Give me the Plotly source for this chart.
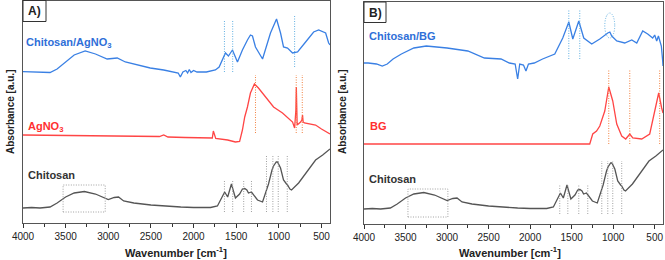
import plotly.graph_objects as go

# ---------------- data (wavenumber cm-1, absorbance a.u. with offsets) ----------------
chitosan_wn = [4000, 3900, 3800, 3683, 3600, 3500, 3400, 3280, 3150, 3050, 3000, 2930, 2880, 2820,
               2700, 2500, 2300, 2150, 2000, 1800, 1720, 1680, 1650, 1635, 1600, 1556, 1509, 1460,
               1427, 1400, 1375, 1356, 1321, 1290, 1250, 1191, 1165, 1150, 1121, 1080, 1062, 1030,
               1015, 980, 945, 910, 898, 870, 851, 768, 700, 651, 569, 486, 416, 400]
chitosan_ab = [0.15, 0.155, 0.15, 0.16, 0.20, 0.26, 0.30, 0.315, 0.29, 0.25, 0.235, 0.255, 0.26, 0.22,
               0.20, 0.18, 0.165, 0.16, 0.155, 0.155, 0.17, 0.23, 0.29, 0.31, 0.26, 0.39, 0.25, 0.29,
               0.34, 0.345, 0.33, 0.30, 0.31, 0.27, 0.23, 0.21, 0.28, 0.33, 0.39, 0.53, 0.57, 0.61,
               0.61, 0.55, 0.43, 0.39, 0.38, 0.34, 0.33, 0.40, 0.48, 0.53, 0.63, 0.68, 0.73, 0.74]

agno3_wn = [4000, 3500, 3000, 2600, 2400, 2350, 2300, 2100, 1900, 1780, 1768, 1760, 1752, 1740,
            1600, 1509, 1460, 1427, 1400, 1368, 1333, 1286, 1239, 1156, 1062, 957, 839, 815,
            800, 795, 790, 785, 745, 730, 722, 715, 700, 569, 500, 416, 400]
agno3_ab = [0.88, 0.875, 0.87, 0.86, 0.865, 0.88, 0.86, 0.855, 0.85, 0.85, 0.92, 0.90, 0.86, 0.845,
            0.83, 0.81, 0.815, 0.93, 1.06, 1.16, 1.30, 1.39, 1.35, 1.26, 1.16, 1.10, 1.01, 0.95,
            1.13, 1.36, 1.13, 0.98, 1.01, 1.03, 1.08, 1.01, 1.00, 0.98, 0.94, 0.90, 0.89]

chag_wn = [4000, 3850, 3683, 3600, 3500, 3400, 3271, 3150, 3013, 2950, 2895, 2800, 2650, 2508,
           2350, 2237, 2180, 2155, 2125, 2090, 2070, 2050, 2030, 2000, 1960, 1850, 1744, 1700,
           1662, 1626, 1591, 1544, 1485, 1427, 1368, 1333, 1309, 1274, 1191, 1156, 1098, 1027,
           980, 945, 898, 839, 780, 686, 592, 533, 451, 416, 400]
chag_ab = [1.513, 1.51, 1.505, 1.54, 1.61, 1.68, 1.72, 1.69, 1.64, 1.645, 1.65, 1.61, 1.58, 1.55,
           1.53, 1.51, 1.50, 1.46, 1.51, 1.525, 1.50, 1.535, 1.505, 1.525, 1.51, 1.51, 1.53, 1.56,
           1.63, 1.70, 1.67, 1.73, 1.61, 1.73, 1.83, 1.88, 1.87, 1.76, 1.64, 1.73, 1.90, 2.04,
           1.90, 1.76, 1.75, 1.70, 1.71, 1.81, 1.91, 1.93, 1.90, 1.80, 1.78]

bg_wn = [4000, 1282, 1246, 1200, 1161, 1101, 1053, 1005, 957, 897, 849, 800, 764, 656, 560,
         500, 452, 416, 400]
bg_ab = [0.80, 0.80, 0.90, 0.93, 0.98, 1.13, 1.37, 1.23, 1.00, 0.88, 0.85, 0.90, 0.86, 0.85, 0.90,
         1.13, 1.31, 1.16, 1.11]

chbg_wn = [4000, 3950, 3850, 3780, 3720, 3650, 3550, 3400, 3250, 3000, 2750, 2550, 2350, 2250,
           2180, 2150, 2125, 2080, 2050, 2020, 1950, 1850, 1703, 1607, 1534, 1486, 1414, 1354,
           1258, 1161, 1065, 1040, 1017, 957, 861, 776, 716, 644, 584, 540, 524, 500, 476, 455,
           440, 420, 404, 400]
chbg_ab = [1.61, 1.61, 1.60, 1.58, 1.60, 1.65, 1.70, 1.76, 1.78, 1.76, 1.73, 1.66, 1.65, 1.61,
           1.60, 1.45, 1.60, 1.59, 1.53, 1.60, 1.61, 1.65, 1.70, 1.86, 2.02, 1.85, 2.03, 1.86,
           1.80, 1.85, 1.91, 1.92, 1.88, 1.83, 1.81, 1.84, 1.81, 1.93, 1.90, 1.87, 1.86, 1.89,
           1.83, 1.88, 1.83, 1.78, 1.63, 1.58]

# marked bands
a_blue_marks = [1638, 1541, 815]
a_red_marks = [1274, 796, 725]
a_gray_short = [1638, 1541, 1412, 1321]
a_gray_long = [1145, 1070, 1007, 901]
b_blue_marks = [1534, 1402]
b_red_marks = [1053, 800, 440]
b_gray_short = [1643, 1546, 1414, 1306]
b_gray_long = [1137, 1065, 1005, 897]

xticks = [4000, 3500, 3000, 2500, 2000, 1500, 1000, 500]

BLUE = "#3a80e4"
RED = "#ff4545"
GRAY = "#555555"
BLUE_DOT = "#62b0e2"
RED_DOT = "#f2803f"
GRAY_DOT = "#a0a0a0"
DOT = "1px,1.5px"

fig = go.Figure()
lw = 1.3
fig.add_trace(go.Scatter(x=chag_wn, y=chag_ab, mode="lines", line=dict(color=BLUE, width=lw), xaxis="x", yaxis="y"))
fig.add_trace(go.Scatter(x=agno3_wn, y=agno3_ab, mode="lines", line=dict(color=RED, width=lw), xaxis="x", yaxis="y"))
fig.add_trace(go.Scatter(x=chitosan_wn, y=chitosan_ab, mode="lines", line=dict(color=GRAY, width=lw), xaxis="x", yaxis="y"))
fig.add_trace(go.Scatter(x=chbg_wn, y=chbg_ab, mode="lines", line=dict(color=BLUE, width=lw), xaxis="x2", yaxis="y2"))
fig.add_trace(go.Scatter(x=bg_wn, y=bg_ab, mode="lines", line=dict(color=RED, width=lw), xaxis="x2", yaxis="y2"))
fig.add_trace(go.Scatter(x=chitosan_wn, y=chitosan_ab, mode="lines", line=dict(color=GRAY, width=lw), xaxis="x2", yaxis="y2"))

shapes = []
def vlines(xs, y0, y1, color, xr, yr):
    for v in xs:
        shapes.append(dict(type="line", xref=xr, yref=yr, x0=v, x1=v, y0=y0, y1=y1,
                           line=dict(color=color, width=1, dash=DOT)))

vlines(a_blue_marks[:2], 1.51, 2.03, BLUE_DOT, "x", "y")
vlines(a_blue_marks[2:], 1.56, 2.08, BLUE_DOT, "x", "y")
vlines(a_red_marks, 0.90, 1.48, RED_DOT, "x", "y")
vlines(a_gray_short, 0.11, 0.43, GRAY_DOT, "x", "y")
vlines(a_gray_long, 0.11, 0.68, GRAY_DOT, "x", "y")
shapes.append(dict(type="rect", xref="x", yref="y", x0=3530, x1=3036, y0=0.11, y1=0.38,
                   line=dict(color=GRAY_DOT, width=1, dash=DOT)))
vlines(b_blue_marks, 1.65, 2.15, BLUE_DOT, "x2", "y2")
shapes.append(dict(type="circle", xref="x2", yref="y2", x0=1101, x1=981, y0=1.86, y1=2.11,
                   line=dict(color=BLUE_DOT, width=1, dash=DOT)))
vlines(b_red_marks, 0.80, 1.55, RED_DOT, "x2", "y2")
vlines(b_gray_short, 0.10, 0.40, GRAY_DOT, "x2", "y2")
vlines(b_gray_long, 0.10, 0.63, GRAY_DOT, "x2", "y2")
shapes.append(dict(type="rect", xref="x2", yref="y2", x0=3471, x1=2990, y0=0.07, y1=0.35,
                   line=dict(color=GRAY_DOT, width=1, dash=DOT)))

W, H = 665, 260
def px(x): return x / W
def py(y): return 1 - y / H

# panel label boxes
for (x0, x1, y0, y1) in [(23, 46, 0.5, 21.5), (364, 386, 2, 22.5)]:
    shapes.append(dict(type="rect", xref="paper", yref="paper", x0=px(x0), x1=px(x1), y0=py(y1), y1=py(y0),
                       line=dict(color="#333333", width=1), fillcolor="white", layer="above"))

FONT = "Liberation Sans, Arial, sans-serif"
ann = []
def label(text, x, y, color, size=11, xanchor="left", angle=0):
    ann.append(dict(text=text, x=px(x), y=py(y), xref="paper", yref="paper", showarrow=False,
                    xanchor=xanchor, yanchor="middle", textangle=angle,
                    font=dict(family=FONT, size=size, color=color)))

label("<b>A)</b>", 34.5, 11, "#222222", size=12, xanchor="center")
label("<b>B)</b>", 375, 12.5, "#222222", size=12, xanchor="center")
label("<b>Chitosan/AgNO<sub>3</sub></b>", 24, 43, "#2f6fd8")
label("<b>AgNO<sub>3</sub></b>", 26, 127, "#ff3030")
label("<b>Chitosan</b>", 26, 175, "#333333")
label("<b>Chitosan/BG</b>", 367, 36, "#2f6fd8")
label("<b>BG</b>", 368, 126, "#ff3030")
label("<b>Chitosan</b>", 367, 179, "#333333")
label("<b>Absorbance [a.u.]</b>", 10, 112, "#222222", size=10, xanchor="center", angle=-90)
label("<b>Absorbance [a.u.]</b>", 342, 112, "#222222", size=10, xanchor="center", angle=-90)
label("<b>Wavenumber [cm<sup>-1</sup>]</b>", 176, 252, "#222222", size=11, xanchor="center")
label("<b>Wavenumber [cm<sup>-1</sup>]</b>", 510, 252, "#222222", size=11, xanchor="center")

xcommon = dict(range=[4000, 400], tickvals=xticks, ticks="outside", ticklen=4, tickwidth=1,
               tickcolor="#333333", showline=True, linecolor="#555555", linewidth=1, mirror=True,
               showgrid=False, zeroline=False, automargin=False,
               tickfont=dict(family=FONT, size=10, color="#222222"),
               minor=dict(ticks="outside", ticklen=3, dtick=250, tickcolor="#333333", showgrid=False))
ycommon = dict(range=[0, 2.22], showticklabels=False, ticks="", showline=True, linecolor="#555555",
               linewidth=1, mirror=True, showgrid=False, zeroline=False, automargin=False)

fig.update_layout(
    width=W, height=H, margin=dict(l=0, r=0, t=0, b=0, pad=0), autosize=False,
    paper_bgcolor="white", plot_bgcolor="white", showlegend=False,
    xaxis=dict(domain=[px(23), px(330)], anchor="y", **xcommon),
    yaxis=dict(domain=[py(223), py(1)], anchor="x", **ycommon),
    xaxis2=dict(domain=[px(364), px(663)], anchor="y2", **xcommon),
    yaxis2=dict(domain=[py(224), py(2)], anchor="x2", **ycommon),
    shapes=shapes, annotations=ann,
)
fig.update_xaxes(tickprefix="<b>", ticksuffix="</b>")

fig.write_html("out.html")
